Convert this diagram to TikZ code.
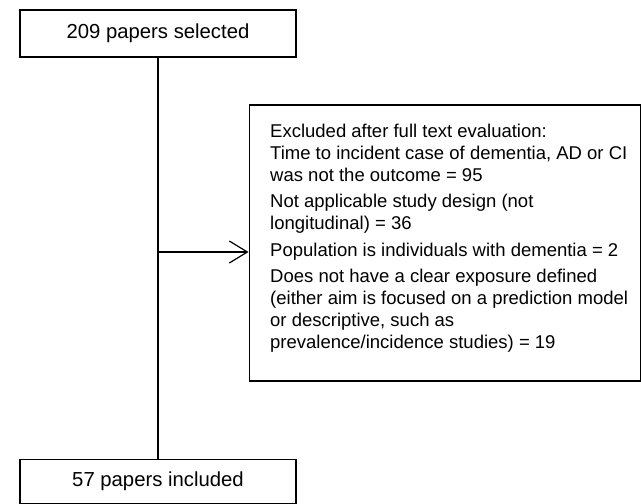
\documentclass[tikz,border=0pt]{standalone}
\usepackage{fontspec}
\setmainfont{Liberation Sans}
\usetikzlibrary{arrows.meta}

\begin{document}
\begin{tikzpicture}[x=1pt, y=-1pt,
	box/.style={draw, rectangle, line width=1.5pt, inner sep=0pt},
	flow/.style={line width=1.2pt}]
	\def \midx {158}
	\def \bigfont {\fontsize{20.3}{24}\selectfont}
	
	\useasboundingbox (0,0) rectangle (641,504);
	
	\node[box, minimum width=276pt, minimum height=47pt, font=\bigfont] (selected) at (\midx,33.5)
		{209 papers selected};
	\node[box, minimum width=276pt, minimum height=44pt, font=\bigfont] (included) at (\midx,481.5)
		{57 papers included};
	\node[box, minimum width=391pt, minimum height=276pt, anchor=north west] (excluded) at (248.5,104)
		{};
	\node[anchor=north west, align=left, inner sep=0pt, font=\fontsize{18.5}{22}\selectfont] (reasons) at (270,123.5)
		{Excluded after full text evaluation:\\
		Time to incident case of dementia, AD or CI\\
		was not the outcome = 95\\[4.5pt]
		Not applicable study design (not\\
		longitudinal) = 36\\[4.5pt]
		Population is individuals with dementia = 2\\[4.5pt]
		Does not have a clear exposure defined\\
		(either aim is focused on a prediction model\\
		or descriptive, such as\\
		prevalence/incidence studies) = 19};
	
	\coordinate (branch) at (\midx,252);
	
	\draw[flow] (selected) -- (included);
	\draw[flow, -{Straight Barb[length=18pt, width=22pt]}] (branch) -- (branch -| excluded.west);
\end{tikzpicture}
\end{document}
